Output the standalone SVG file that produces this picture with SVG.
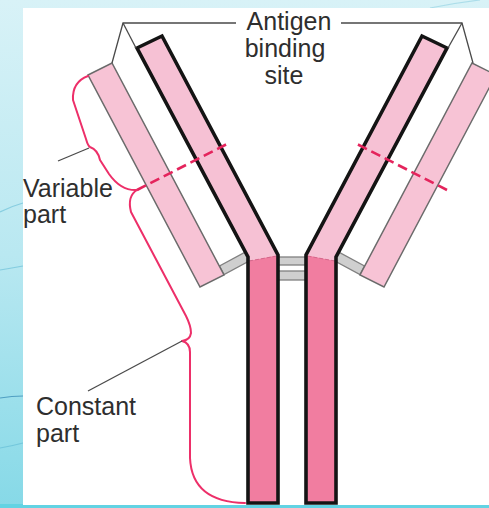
<svg xmlns="http://www.w3.org/2000/svg" width="489" height="508" viewBox="0 0 489 508">
  <defs>
    <linearGradient id="bg" x1="0" y1="0" x2="0" y2="1">
      <stop offset="0" stop-color="#d8f2f7"/>
      <stop offset="0.5" stop-color="#b9e8f1"/>
      <stop offset="1" stop-color="#86d9e7"/>
    </linearGradient>
    <style>
      .heavy { stroke: #141414; stroke-width: 3.6; stroke-linejoin: miter; fill: none; }
      .light { fill: #f7c3d5; stroke: #6b6b6b; stroke-width: 1.5; stroke-linejoin: miter; }
      .armfill { fill: #f6c1d4; }
      .stemfill { fill: #f17da0; }
      .seam { stroke: #d5688c; stroke-width: 1; fill: none; stroke-dasharray: 4 2; }
      .bond { fill: #cfcfcf; stroke: #808080; stroke-width: 1.3; }
      .brace { fill: none; stroke: #ed2f69; stroke-width: 2; stroke-linecap: round; stroke-linejoin: round; }
      .cut { stroke: #e4245c; stroke-width: 2.6; stroke-dasharray: 10 5; fill: none; }
      .leader { stroke: #4a4a4a; stroke-width: 1.3; fill: none; }
      .label { font-family: "Liberation Sans", Arial, sans-serif; font-size: 25px; fill: #2e2e2e; }
      .swirl { fill: none; stroke: #5ab6d2; stroke-width: 1.2; opacity: 0.55; }
    </style>
  </defs>

  <!-- backdrop and white panel -->
  <rect x="0" y="0" width="489" height="508" fill="url(#bg)"/>
  <rect x="0" y="504" width="489" height="4" fill="#62d3e3"/>
  <path class="swirl" d="M0,212 Q12,206 23,203"/>
  <path class="swirl" d="M0,270 Q12,268 23,266"/>
  <path class="swirl" d="M0,398 Q12,396 23,396" style="stroke:#3c8fb8;opacity:0.8"/>
  <path class="swirl" d="M0,448 Q12,446 23,443"/>
  <path class="swirl" d="M430,8 Q455,3 480,0" style="opacity:0.35"/>
  <rect x="23" y="8" width="466" height="497" fill="#ffffff"/>

  <!-- left light chain with its bond to the heavy chain -->
  <g id="light-left">
    <polygon class="bond" points="219.5,266 224,274.5 251,260 246.5,251.5"/>
    <polygon class="light" points="88,75 112,63 224,275 200,287"/>
  </g>

  <!-- right light chain with its bond to the heavy chain -->
  <g id="light-right">
    <polygon class="bond" points="364.5,266 360,274.5 333,260 337.5,251.5"/>
    <polygon class="light" points="496,75 472,63 360,275 384,287"/>
  </g>

  <!-- hinge disulfide bonds -->
  <g id="hinge">
    <rect class="bond" x="277" y="257" width="31" height="8"/>
    <rect class="bond" x="277" y="271" width="31" height="9"/>
  </g>

  <!-- left heavy chain -->
  <g id="heavy-left">
    <polygon class="armfill" points="137,48 162,36 278,255 248,261 248,257"/>
    <polygon class="stemfill" points="248,261 278,255 278,503 248,503"/>
    <line class="seam" x1="249" y1="261" x2="277" y2="256"/>
    <polygon class="heavy" points="137,48 162,36 278,255 278,503 248,503 248,257"/>
  </g>

  <!-- right heavy chain -->
  <g id="heavy-right">
    <polygon class="armfill" points="447,48 422,36 306,255 336,261 336,257"/>
    <polygon class="stemfill" points="336,261 306,255 306,503 336,503"/>
    <line class="seam" x1="335" y1="261" x2="307" y2="256"/>
    <polygon class="heavy" points="447,48 422,36 306,255 306,503 336,503 336,257"/>
  </g>

  <!-- connectors: braces, dashed domain limits and label leaders -->
  <g id="connectors">
    <line class="cut" x1="137" y1="190" x2="229" y2="143"/>
    <line class="cut" x1="447" y1="190" x2="355" y2="143"/>
    <path class="brace" d="M88,76 Q72,82 73,100 L86,139 Q88,146 90,147 Q98,150 100,160 L109,174 Q121,191 137,190"/>
    <path class="brace" d="M137,190 Q127,196 131,212 L186,316 Q191,326 191,333 Q190,340 182,341 Q190,343 190,352 L190,458 Q192,502 245,503"/>
    <line class="leader" x1="89" y1="148" x2="58" y2="161"/>
    <line class="leader" x1="182" y1="341" x2="88" y2="391"/>
    <polyline class="leader" points="236,23 123,23 112,63"/>
    <line class="leader" x1="123" y1="23" x2="136" y2="48"/>
    <polyline class="leader" points="341,23 462,23 473,63"/>
    <line class="leader" x1="462" y1="23" x2="448" y2="48"/>
  </g>

  <!-- labels -->
  <g id="labels">
    <text class="label" x="289" y="30" text-anchor="middle">Antigen</text>
    <text class="label" x="285" y="57" text-anchor="middle">binding</text>
    <text class="label" x="284" y="84" text-anchor="middle">site</text>
    <text class="label" x="23" y="197">Variable</text>
    <text class="label" x="23" y="223">part</text>
    <text class="label" x="36" y="415">Constant</text>
    <text class="label" x="36" y="442">part</text>
  </g>
</svg>
